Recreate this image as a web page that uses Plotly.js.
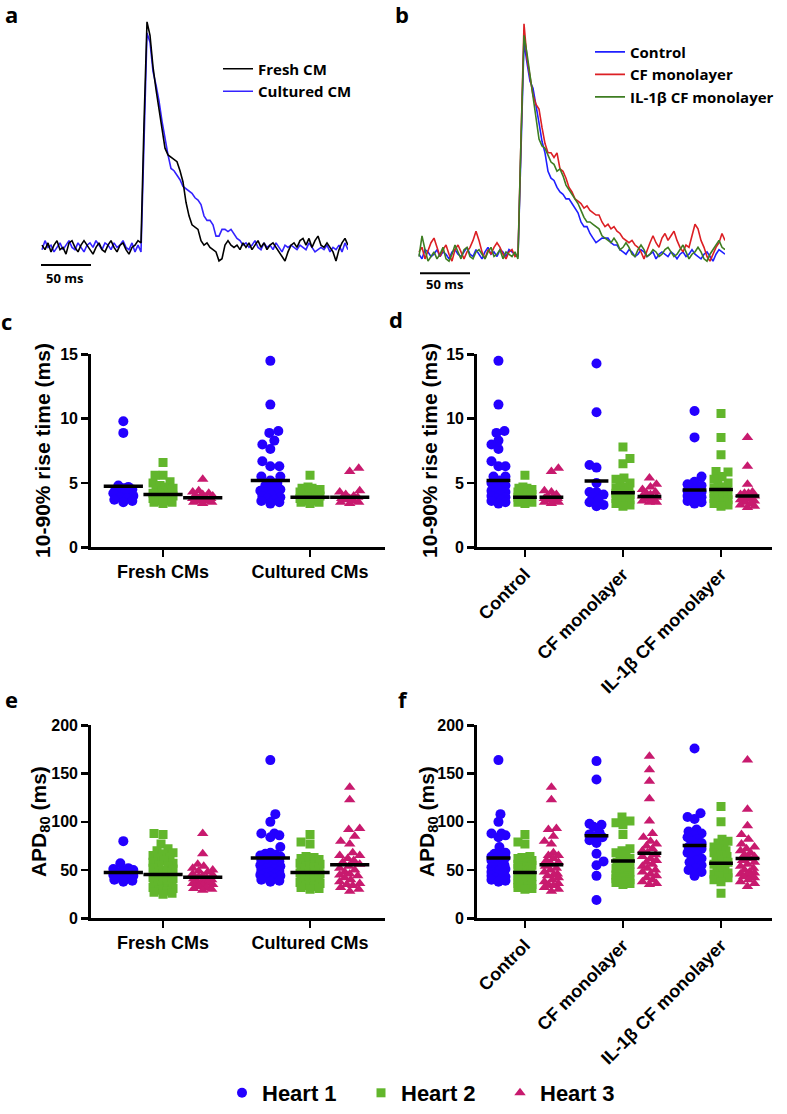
<!DOCTYPE html>
<html>
<head>
<meta charset="utf-8">
<script src="https://cdn.plot.ly/plotly-3.0.1.min.js"></script>
<style>
  body { margin: 0; background: #fff; }
  #myDiv { width: 787px; height: 1114px; }
</style>
</head>
<body>
<div id="myDiv"></div>
<script>
// optical AP traces, normalised, sampled every 3 ms starting at t = 1 ms
var freshCM = [0.01,-0.01,0.02,-0.02,0.01,0.03,-0.01,0.00,-0.03,0.02,0.03,0.00,-0.02,0.01,0.03,0.01,-0.01,-0.03,0.00,0.02,-0.01,-0.02,0.01,0.03,0.00,-0.02,0.01,0.02,-0.01,-0.03,0.00,0.01,0.03,
  0.02,0.55,1.00,
  0.94,0.80,0.70,0.61,0.51,0.44,0.41,0.40,0.39,0.38,0.34,0.29,0.20,0.14,0.10,0.09,0.08,0.03,0.01,0.02,0.00,-0.01,-0.02,-0.06,-0.05,0.01,0.03,0.01,0.00,
  0.01,-0.01,0.02,0.00,0.02,-0.01,0.01,0.03,0.00,0.02,-0.01,0.01,0.02,0.00,-0.02,-0.04,-0.06,-0.02,0.01,0.02,0.00,0.03,0.04,0.01,0.04,0.00,0.03,0.05,0.01,0.00,0.02,0.00,-0.02,-0.06,-0.01,0.02,0.04,0.01];
var culturedCM = [-0.01,0.03,0.00,0.01,-0.02,0.00,0.02,-0.01,0.01,0.03,0.00,-0.01,0.02,0.00,-0.02,0.01,0.02,0.00,0.03,0.01,-0.01,0.02,0.01,-0.01,0.02,0.00,0.01,0.03,0.00,-0.01,0.02,-0.02,0.01,
  -0.02,0.45,0.95,
  0.91,0.78,0.72,0.65,0.56,0.48,0.41,0.35,0.34,0.32,0.30,0.27,0.26,0.25,0.24,0.22,0.21,0.19,0.14,0.12,0.12,0.10,0.05,0.05,0.08,0.08,0.07,0.08,0.06,0.04,0.03,0.01,
  0.02,0.00,0.01,0.03,0.00,-0.01,0.02,0.00,0.01,-0.01,0.02,0.00,-0.02,0.01,0.00,0.01,0.00,-0.01,0.01,0.00,-0.01,0.02,0.00,-0.02,-0.01,0.00,-0.01,0.01,-0.02,0.00,-0.01,0.01,-0.02,0.02,-0.01];
var controlTrace = [0.00,-0.02,0.02,0.01,-0.01,0.00,0.02,-0.01,0.01,0.00,-0.02,0.01,0.02,0.00,-0.01,0.01,0.03,0.00,-0.01,0.02,0.00,-0.02,0.01,0.03,0.00,0.01,-0.01,0.02,0.01,-0.01,0.02,0.01,0.00,
  -0.01,0.45,0.92,
  0.83,0.75,0.72,0.65,0.57,0.49,0.44,0.36,0.33,0.32,0.29,0.27,0.26,0.24,0.24,0.22,0.20,0.18,0.14,0.12,0.12,0.09,0.07,0.05,0.06,0.07,0.07,0.07,0.05,0.04,0.04,0.02,
  0.01,0.00,0.02,0.01,-0.01,0.00,0.02,0.01,-0.01,0.00,0.01,-0.02,0.00,0.01,0.00,-0.01,0.01,0.00,-0.02,0.00,0.01,-0.01,0.00,0.02,0.00,-0.01,-0.02,0.00,0.01,-0.01,-0.03,0.00,0.02,0.01,0.00];
var cfTrace = [0.01,0.03,-0.02,0.02,0.05,0.07,0.03,-0.01,0.02,0.04,0.00,-0.03,0.02,0.04,0.01,-0.02,0.01,0.03,0.06,0.10,0.06,0.01,-0.02,0.02,0.00,0.03,0.05,0.03,0.00,-0.02,0.01,0.02,-0.01,
  0.00,0.50,1.00,
  0.85,0.76,0.69,0.65,0.63,0.55,0.48,0.44,0.44,0.42,0.44,0.37,0.36,0.33,0.29,0.27,0.24,0.23,0.22,0.20,0.21,0.19,0.18,0.17,0.17,0.14,0.12,0.13,0.11,0.12,0.10,0.09,
  0.07,0.06,0.05,0.06,0.04,0.03,0.01,-0.02,0.02,0.05,0.08,0.05,0.03,0.07,0.09,0.06,0.08,0.10,0.06,0.03,0.01,0.04,0.03,0.08,0.13,0.11,0.06,0.03,-0.01,-0.03,0.00,0.03,0.05,0.09,0.06];
var ilTrace = [-0.01,0.08,0.02,-0.03,-0.01,0.01,-0.02,0.00,0.03,-0.02,-0.03,0.00,0.04,0.01,-0.02,0.02,0.03,-0.01,-0.02,0.01,0.02,0.00,-0.02,0.01,0.03,-0.01,0.00,0.02,-0.02,0.01,0.00,-0.01,0.01,
  -0.02,0.50,0.95,
  0.87,0.78,0.69,0.59,0.50,0.47,0.46,0.43,0.40,0.39,0.36,0.37,0.34,0.30,0.28,0.26,0.24,0.22,0.19,0.16,0.14,0.14,0.13,0.12,0.11,0.08,0.07,0.06,0.05,0.07,0.05,0.02,
  0.03,0.05,0.03,0.00,-0.01,0.02,0.04,0.02,-0.01,0.00,0.02,0.01,-0.01,0.00,0.02,0.03,0.01,-0.01,0.00,0.02,0.04,0.01,-0.02,0.00,0.01,0.03,0.01,-0.02,-0.03,0.00,0.02,0.04,0.06,0.03,0.02];

// 10-90% rise time (ms)
var riseFresh1 = [9.8,8.9,4.8,4.7,4.6,4.5,4.5,4.4,4.3,4.2,4.0,3.9,3.8,3.7,3.6,3.5];
var riseFresh2 = [6.6,5.6,5.6,5.1,5.0,4.8,4.7,4.6,4.5,4.5,4.4,4.3,4.3,4.2,4.2,4.1,4.1,4.0,4.0,3.9,3.9,3.8,3.8,3.7,3.7,3.6,3.6,3.5,3.5,3.4];
var riseFresh3 = [5.3,4.4,4.3,4.2,4.1,4.0,4.0,3.9,3.9,3.8,3.8,3.7,3.7,3.6,3.6,3.5,3.5,3.4];
var riseCult1 = [14.5,11.1,9.05,8.9,8.3,8.0,7.65,6.7,6.3,6.3,5.5,5.5,5.2,5.0,4.8,4.6,4.5,4.4,4.3,4.2,4.1,4.0,3.9,3.8,3.7,3.6,3.5,3.4];
var riseCult2 = [5.6,4.7,4.6,4.6,4.5,4.4,4.3,4.2,4.1,4.0,4.0,3.9,3.9,3.8,3.8,3.7,3.7,3.6,3.6,3.5,3.5,3.4];
var riseCult3 = [6.15,5.9,4.4,4.3,4.1,4.0,3.9,3.8,3.8,3.7,3.6,3.5,3.5,3.4];
var riseCF1 = [14.3,10.5,6.4,6.2,5.0,4.3,4.3,4.1,3.9,3.7,3.5,3.3,3.2];
var riseCF2 = [7.8,6.9,6.5,5.4,5.3,5.0,4.8,4.7,4.6,4.5,4.4,4.3,4.2,4.1,4.0,3.9,3.8,3.7,3.6,3.5,3.4,3.3,3.2];
var riseCF3 = [5.4,4.9,4.7,4.5,4.3,4.2,4.1,4.0,3.9,3.8,3.7,3.6,3.5,3.5];
var riseIL1 = [10.6,8.55,5.5,5.1,4.9,4.8,4.6,4.5,4.4,4.3,4.2,4.1,4.0,3.9,3.8,3.7,3.6,3.5,3.4];
var riseIL2 = [10.4,8.55,7.2,5.9,5.85,5.5,5.3,5.0,4.8,4.7,4.6,4.5,4.4,4.3,4.2,4.1,4.0,3.9,3.8,3.7,3.6,3.5,3.4,3.3,3.2];
var riseIL3 = [8.55,6.3,4.9,4.3,4.2,4.2,4.1,4.0,3.9,3.8,3.7,3.6,3.5,3.4,3.3,3.2,3.1];

// APD80 (ms)
var apdFresh1 = [80,57,52,51,50,49,48,46,45,44,43,42,41,40,39,38];
var apdFresh2 = [88,87,77,72,70,68,67,65,63,62,60,58,57,55,54,52,51,50,49,48,47,46,45,44,43,42,41,40,39,38,37,36,35,34,33,32,31,30,29,28,27,26,25];
var apdFresh3 = [88,67,56,54,52,50,49,48,46,45,44,43,42,41,40,39,38,37,36,35,34,33,32,31,30,29];
var apdCult1 = [164,108,100,88,88,86,84,74,68,67,66,65,64,63,62,61,60,59,58,57,56,55,54,53,52,51,50,49,48,47,46,45,44,43,42,41,40,39,38];
var apdCult2 = [87,79,77,64,63,62,61,60,59,58,57,56,55,54,53,52,51,50,49,48,47,46,45,44,43,42,41,40,39,38,37,36,35,34,33,32,31,30];
var apdCult3 = [136,123,93,92,85,80,77,68,65,65,62,60,58,56,54,52,50,48,46,45,44,42,40,38,36,35,34,32,30,28];
var apdCF1 = [163,144,98,97,95,89,87,85,84,81,78,67,59,55,44,19];
var apdCF2 = [105,101,99,97,87,72,70,68,66,64,62,60,58,56,54,52,50,48,47,46,45,44,43,42,41,40,39,38,37,36,35];
var apdCF3 = [168,154,142,124,101,88,84,80,77,75,72,70,68,66,64,62,60,58,56,54,52,50,48,46,44,42,40,38,36,35];
var apdIL1 = [176,109,105,103,92,90,88,86,84,82,80,78,76,74,72,70,68,66,64,62,60,58,55,52,50,48,44];
var apdIL2 = [116,100,82,80,78,76,74,72,70,68,66,64,62,60,58,56,54,52,50,48,47,46,45,44,42,40,38,26];
var apdIL3 = [164,113,96,87,82,77,74,72,70,68,66,64,62,60,58,56,54,52,50,48,47,46,45,44,43,42,40,38,36,33];

// central bars, heart 1..3 per group
var riseBarC = [4.75,4.1,3.85, 5.2,3.9,3.9];
var riseBarD = [5.2,3.9,3.9, 5.15,4.25,3.95, 4.45,4.5,4.0];
var apdBarE = [47.5,45.5,42.5, 62.5,47.5,55.5];
var apdBarF = [62.5,47.5,55.5, 85.5,59.5,67.5, 75.5,57,62];

var cellLabels = ['Fresh CMs', 'Cultured CMs'];
var condLabels = ['Control', 'CF monolayer', 'IL-1β CF monolayer'];
var hearts = ['Heart 1', 'Heart 2', 'Heart 3'];

var W = 787, H = 1114;
function px(x) { return x / W; }
function py(y) { return 1 - y / H; }

var heartColor = ['#2400ff', '#62b62c', '#c81a6e'];
var heartSymbol = ['circle', 'square', 'triangle-up'];
var heartSize = [10, 9, 10];
var heartShift = [-0.27, 0, 0.27];

// simple beeswarm, worked out in pixels so the points spread sideways
function swarm(vals, pyPerUnit, maxOff, gap) {
  var order = vals.map(function (v, i) { return i; }).sort(function (a, b) { return vals[a] - vals[b]; });
  var placed = [], off = [];
  order.forEach(function (i, n) {
    var y = vals[i] * pyPerUnit, best = 0, bestD = -1, done = false;
    for (var k = 0; k <= maxOff && !done; k++) {
      var cands = k === 0 ? [0] : (n % 2 ? [k, -k] : [-k, k]);
      for (var c = 0; c < cands.length; c++) {
        var d = Infinity;
        placed.forEach(function (p) {
          var dd = Math.sqrt(Math.pow(p[0] - cands[c], 2) + Math.pow(p[1] - y, 2));
          if (dd < d) d = dd;
        });
        if (d >= gap) { best = cands[c]; done = true; break; }
        if (d > bestD) { bestD = d; best = cands[c]; }
      }
    }
    placed.push([best, y]);
    off[i] = best;
  });
  return off;
}

function dotTraces(groups, bars, xa, ya, pxX, pyY, maxOff, gap, barW, leg) {
  var out = [];
  for (var h = 0; h < 3; h++) {
    var xs = [], ys = [];
    groups.forEach(function (g, ci) {
      var offs = swarm(g[h], pyY, maxOff, gap);
      g[h].forEach(function (v, j) {
        xs.push(ci + 1 + heartShift[h] + offs[j] / pxX);
        ys.push(v);
      });
    });
    out.push({
      x: xs, y: ys, xaxis: xa, yaxis: ya, type: 'scatter', mode: 'markers',
      name: hearts[h], showlegend: leg, legend: 'legend3',
      marker: { color: heartColor[h], symbol: heartSymbol[h], size: heartSize[h] }
    });
  }
  var bx = [];
  groups.forEach(function (g, ci) {
    for (var h = 0; h < 3; h++) bx.push(ci + 1 + heartShift[h]);
  });
  out.push({
    x: bx, y: bars, xaxis: xa, yaxis: ya, type: 'scatter', mode: 'markers', showlegend: false,
    marker: { symbol: 'line-ew', size: barW, color: 'black', line: { width: 3.5, color: 'black' } }
  });
  return out;
}

function apTrace(v, name, color, xa, ya, leg, rank) {
  return {
    y: v, x0: 1, dx: 3, xaxis: xa, yaxis: ya, type: 'scatter', mode: 'lines',
    name: name, legend: leg, legendrank: rank, line: { color: color, width: 1.6 }
  };
}

// cultured drawn first so the fresh trace sits on top
var data = [
  apTrace(culturedCM, 'Cultured CM', '#3423ff', 'x', 'y', 'legend', 2),
  apTrace(freshCM, 'Fresh CM', '#000000', 'x', 'y', 'legend', 1),
  apTrace(controlTrace, 'Control', '#1f1fff', 'x2', 'y2', 'legend2', 1),
  apTrace(cfTrace, 'CF monolayer', '#dc1f24', 'x2', 'y2', 'legend2', 2),
  apTrace(ilTrace, 'IL-1β CF monolayer', '#3e7d22', 'x2', 'y2', 'legend2', 3)
];

data = data.concat(
  dotTraces([[riseFresh1, riseFresh2, riseFresh3], [riseCult1, riseCult2, riseCult3]], riseBarC, 'x3', 'y3', 147, 13, 10, 9, 28, true),
  dotTraces([[riseCult1, riseCult2, riseCult3], [riseCF1, riseCF2, riseCF3], [riseIL1, riseIL2, riseIL3]], riseBarD, 'x4', 'y4', 98.15, 13, 7, 8, 17, false),
  dotTraces([[apdFresh1, apdFresh2, apdFresh3], [apdCult1, apdCult2, apdCult3]], apdBarE, 'x5', 'y5', 147, 0.975, 10, 9, 28, false),
  dotTraces([[apdCult1, apdCult2, apdCult3], [apdCF1, apdCF2, apdCF3], [apdIL1, apdIL2, apdIL3]], apdBarF, 'x6', 'y6', 98.15, 0.975, 7, 8, 17, false)
);

var arial = { family: 'Arial, "Liberation Sans", sans-serif', weight: 'bold', color: '#000' };
function font(base, size) { return { family: base.family, weight: base.weight, color: base.color, size: size }; }
var calib = { family: '"Open Sans", sans-serif', weight: 'bold', color: '#000' };

function catAxis(dom, n, labels, angle) {
  return {
    domain: dom, range: n === 2 ? [0.508, 2.51] : [0.508, 3.517],
    tickvals: n === 2 ? [1, 2] : [1, 2, 3], ticktext: labels, tickangle: angle,
    showline: true, linewidth: 2.5, linecolor: '#000', ticks: 'outside', ticklen: 7, tickwidth: 2.5, tickcolor: '#000',
    showgrid: false, zeroline: false, tickfont: font(arial, 18), fixedrange: true
  };
}
function valAxis(dom, range, tv, anchor) {
  return {
    domain: dom, range: range, tickvals: tv, anchor: anchor,
    showline: true, linewidth: 2.5, linecolor: '#000', ticks: 'outside', ticklen: 7, tickwidth: 2.5, tickcolor: '#000',
    showgrid: false, zeroline: false, tickfont: font(arial, 16), fixedrange: true
  };
}

var topY = [py(290), py(15)];
var cX = [px(90.7), px(385)], dX = [px(476.7), px(771.7)];
var cY = [py(553.3), py(358.3)], eY = [py(928.3), py(733.3)];

var xa3 = catAxis(cX, 2, cellLabels, 0); xa3.anchor = 'y3';
var xa4 = catAxis(dX, 3, condLabels, -45); xa4.anchor = 'y4';
var xa5 = catAxis(cX, 2, cellLabels, 0); xa5.anchor = 'y5';
var xa6 = catAxis(dX, 3, condLabels, -45); xa6.anchor = 'y6';

function letter(t, x, y) {
  return { text: t, x: px(x), y: py(y), xref: 'paper', yref: 'paper', showarrow: false, font: font(calib, 22), xanchor: 'center', yanchor: 'middle' };
}
function ytitle(t, x, y) {
  return { text: t, x: px(x), y: py(y), xref: 'paper', yref: 'paper', showarrow: false, textangle: -90, font: font(arial, 21), xanchor: 'center', yanchor: 'middle' };
}

var layout = {
  width: W, height: H, margin: { l: 0, r: 0, t: 0, b: 0 },
  paper_bgcolor: '#fff', plot_bgcolor: 'rgba(0,0,0,0)',
  xaxis: { domain: [px(41), px(348)], range: [0, 307], visible: false, fixedrange: true },
  yaxis: { domain: topY, range: [-0.175, 1.031], visible: false, fixedrange: true },
  xaxis2: { domain: [px(418), px(725)], range: [0, 307], visible: false, anchor: 'y2', fixedrange: true },
  yaxis2: { domain: topY, range: [-0.1416, 1.0386], visible: false, anchor: 'x2', fixedrange: true },
  xaxis3: xa3, yaxis3: valAxis(cY, [0, 15], [0, 5, 10, 15], 'x3'),
  xaxis4: xa4, yaxis4: valAxis(cY, [0, 15], [0, 5, 10, 15], 'x4'),
  xaxis5: xa5, yaxis5: valAxis(eY, [0, 200], [0, 50, 100, 150, 200], 'x5'),
  xaxis6: xa6, yaxis6: valAxis(eY, [0, 200], [0, 50, 100, 150, 200], 'x6'),
  legend: { x: px(218), xanchor: 'left', y: py(53), yanchor: 'top', font: font(calib, 15), bgcolor: 'rgba(0,0,0,0)', tracegroupgap: 0 },
  legend2: { x: px(590), xanchor: 'left', y: py(36), yanchor: 'top', font: font(calib, 15), bgcolor: 'rgba(0,0,0,0)', tracegroupgap: 0 },
  legend3: { orientation: 'h', x: px(222), xanchor: 'left', y: py(1105), yanchor: 'middle', font: font(arial, 22), bgcolor: 'rgba(0,0,0,0)', entrywidth: 94, entrywidthmode: 'pixels' },
  shapes: [
    { type: 'line', xref: 'x', yref: 'y', x0: 0, x1: 50, y0: -0.078, y1: -0.078, line: { color: '#000', width: 2 } },
    { type: 'line', xref: 'x2', yref: 'y2', x0: 2, x1: 52, y0: -0.082, y1: -0.082, line: { color: '#000', width: 2 } }
  ],
  annotations: [
    letter('a', 11, 14), letter('b', 402, 14), letter('c', 6, 324), letter('d', 396, 322),
    letter('e', 11, 707), letter('f', 403, 707),
    { text: '50 ms', x: 23, y: -0.135, xref: 'x', yref: 'y', showarrow: false, font: font(calib, 13) },
    { text: '50 ms', x: 27, y: -0.129, xref: 'x2', yref: 'y2', showarrow: false, font: font(calib, 13) },
    ytitle('10-90% rise time (ms)', 43, 455.8), ytitle('10-90% rise time (ms)', 430, 455.8),
    ytitle('APD<sub>80</sub> (ms)', 40, 831), ytitle('APD<sub>80</sub> (ms)', 428, 831)
  ],
  hovermode: false
};

Plotly.newPlot('myDiv', data, layout, { staticPlot: true });
</script>
</body>
</html>
